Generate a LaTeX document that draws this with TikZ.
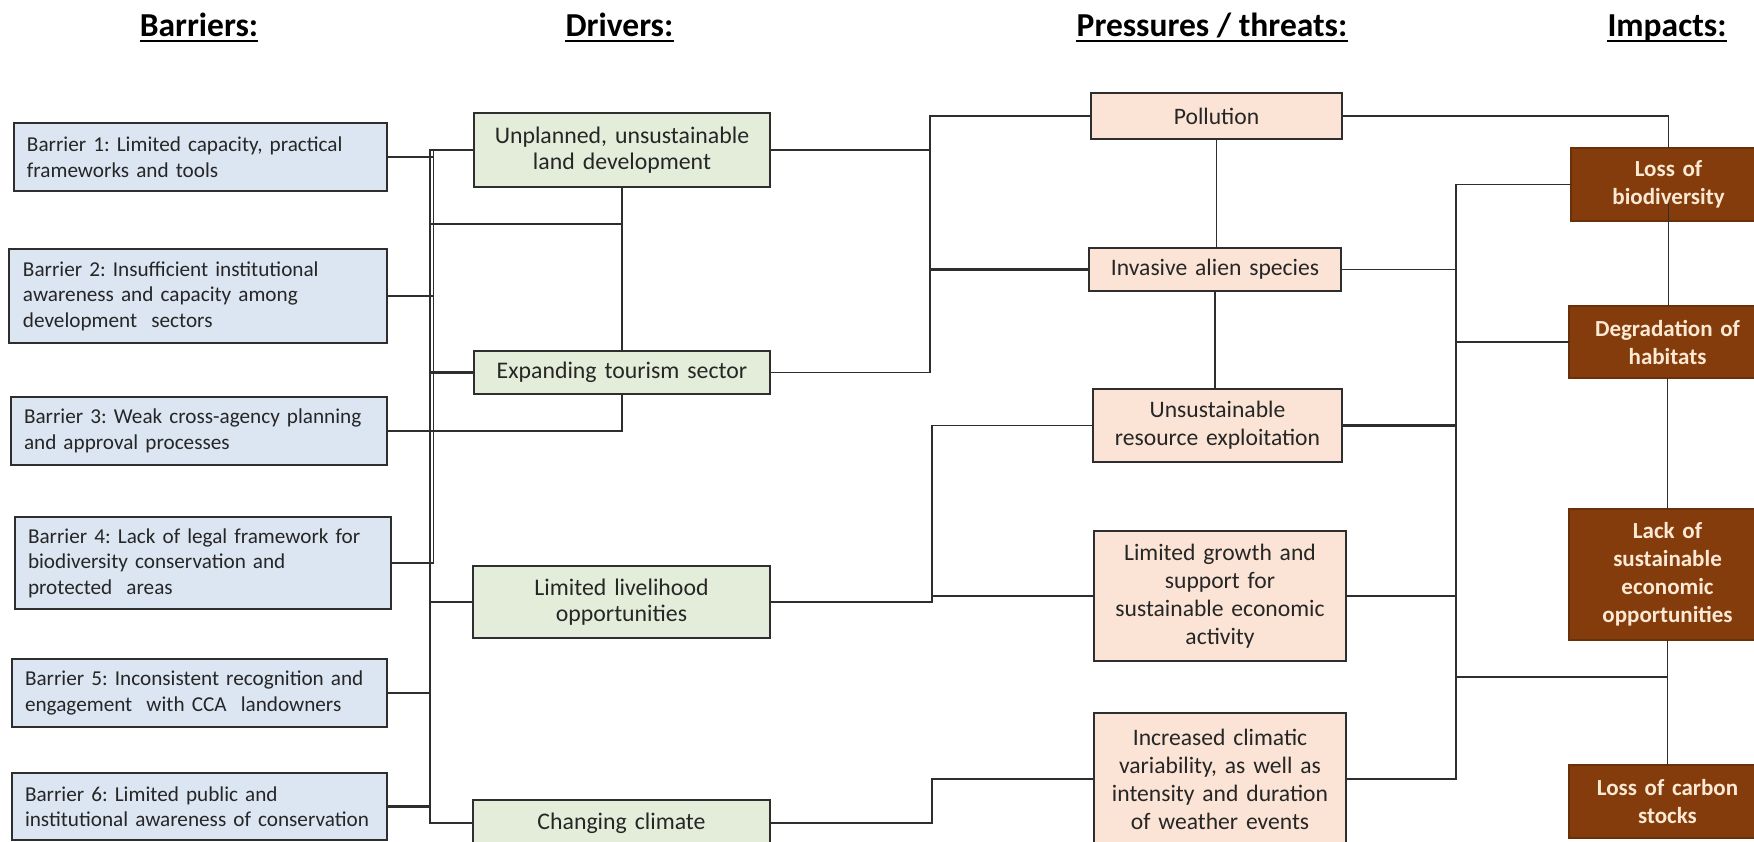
\documentclass[tikz,border=0pt]{standalone}
\usepackage{fontspec}
\setmainfont{Carlito}
\definecolor{barfill}{HTML}{DCE6F2}
\definecolor{drvfill}{HTML}{E4EDDA}
\definecolor{prsfill}{HTML}{FBE4D5}
\definecolor{impfill}{HTML}{843C0C}
\definecolor{imptext}{HTML}{FCE9D4}
\definecolor{linec}{HTML}{2E2E2E}
\definecolor{txtc}{HTML}{262626}
\begin{document}
\frenchspacing
\hyphenpenalty=10000
\exhyphenpenalty=10000
\begin{tikzpicture}[x=1pt,y=-1pt,
  boxbase/.style={draw=linec, line width=1.8pt, inner sep=0pt, outer sep=0pt, text=txtc},
  barbox/.style={boxbase, fill=barfill, align=left, font=\fontsize{21.2}{25.5}\selectfont},
  drvbox/.style={boxbase, fill=drvfill, align=center, font=\fontsize{23.8}{26.5}\selectfont},
  prsbox/.style={boxbase, fill=prsfill, align=center, font=\fontsize{23.6}{28}\selectfont},
  impbox/.style={draw=impfill!80!black, line width=1.5pt, fill=impfill, inner sep=0pt, outer sep=0pt,
     text=imptext, align=center, font=\bfseries\fontsize{23}{28}\selectfont},
  head/.style={inner sep=0pt, anchor=base, font=\bfseries\fontsize{33.5}{38}\selectfont, text=black},
  conn/.style={draw=linec, line width=1.6pt},
  ul/.style={draw=black, line width=2pt}]
\useasboundingbox (0,0) rectangle (1754,841);
\clip (0,0) rectangle (1754,841);
\fill[white] (0,0) rectangle (1754,841);

% headers
\node[head] (h1) at (199,36) {Barriers:};
\node[head] (h2) at (619.5,36) {Drivers:};
\node[head] (h3) at (1212,36) {Pressures / threats:};
\node[head] (h4) at (1667,36) {Impacts:};
\foreach \h in {h1,h2,h3,h4}{
  \draw[ul] ([yshift=-4.5pt]\h.base west) -- ([yshift=-4.5pt]\h.base east);
}

% bus coordinates
\coordinate (busA) at (430,0);
\coordinate (busA2) at (433.5,0);
\coordinate (busP) at (930,0);
\coordinate (busQ) at (932,0);
\coordinate (busI) at (1456,0);
\coordinate (j1) at (622,224);
\coordinate (j2) at (1668,677);

% barriers
\node[barbox, minimum width=373pt, minimum height=68pt, text width=347pt] (B1) at (200.5,157) {Barrier 1: Limited capacity, practical\\frameworks and tools};
\node[barbox, minimum width=378pt, minimum height=94pt, text width=350pt] (B2) at (198,296) {Barrier 2: Insufficient institutional\\awareness and capacity among\\development\ \ sectors};
\node[barbox, minimum width=376pt, minimum height=68pt, text width=350pt] (B3) at (199,431) {Barrier 3: Weak cross-agency planning\\and approval processes};
\node[barbox, minimum width=376pt, minimum height=92pt, text width=350pt] (B4) at (203,563) {Barrier 4: Lack of legal framework for\\biodiversity conservation and\\protected\ \ areas};
\node[barbox, minimum width=375pt, minimum height=68pt, text width=349pt] (B5) at (199.5,693) {Barrier 5: Inconsistent recognition and\\engagement\ \ with CCA\ \ landowners};
\node[barbox, minimum width=375pt, minimum height=67pt, text width=349pt] (B6) at (199.5,806.5) {Barrier 6: Limited public and\\institutional awareness of conservation};

% drivers
\node[drvbox, minimum width=296pt, minimum height=74pt, text width=285pt] (D1) at (622,150) {Unplanned, unsustainable\\land development};
\node[drvbox, minimum width=296pt, minimum height=43pt, text width=285pt] (D2) at (622,372.5) {Expanding tourism sector};
\node[drvbox, minimum width=297pt, minimum height=72pt, text width=285pt] (D3) at (621.5,602) {Limited livelihood\\opportunities};
\node[drvbox, minimum width=297pt, minimum height=46pt, text width=285pt] (D4) at (621.5,823) {Changing climate};

% pressures
\node[prsbox, minimum width=251pt, minimum height=46pt, text width=245pt] (P1) at (1216.5,116) {Pollution};
\node[prsbox, minimum width=252pt, minimum height=43pt, text width=245pt] (P2) at (1215,269.5) {Invasive alien species};
\node[prsbox, minimum width=249pt, minimum height=73pt, text width=245pt] (P3) at (1217.5,425.5) {Unsustainable\\resource exploitation};
\node[prsbox, minimum width=252pt, minimum height=130pt, text width=245pt] (P4) at (1220,596) {Limited growth and\\support for\\sustainable economic\\activity};
\node[prsbox, minimum width=252pt, minimum height=132pt, text width=245pt] (P5) at (1220,779) {Increased climatic\\variability, as well as\\intensity and duration\\of weather events};

% impacts
\node[impbox, minimum width=195pt, minimum height=73pt, text width=190pt] (I1) at (1668.5,184.5) {Loss of\\biodiversity};
\node[impbox, minimum width=197pt, minimum height=72pt, text width=190pt] (I2) at (1667.5,342) {Degradation of\\habitats};
\node[impbox, minimum width=197pt, minimum height=131pt, text width=190pt] (I3) at (1667.5,574.5) {Lack of\\sustainable\\economic\\opportunities};
\node[impbox, minimum width=197pt, minimum height=73pt, text width=190pt] (I4) at (1667.5,801.5) {Loss of carbon\\stocks};

% ---- connectors: barriers -> drivers
\draw[conn] (D1.west) -- (D1.west -| busA) |- (D4.west);
\draw[conn] (busA2 |- D1.west) -- (busA2 |- B4.east);
\draw[conn, line width=2.4pt] (B1.east) -- (B1.east -| busA2);
\draw[conn] (B2.east) -- (B2.east -| busA2);
\draw[conn] (B4.east) -- (B4.east -| busA2);
\draw[conn] (B5.east) -- (B5.east -| busA);
\draw[conn, line width=2.4pt] (B6.east) -- (B6.east -| busA);
\draw[conn, line width=2.2pt] (D2.west) -- (D2.west -| busA);
\draw[conn] (D3.west) -- (D3.west -| busA);
\draw[conn] (D1.south) -- (D2.north);
\draw[conn] (j1 -| busA) -- (j1);
\draw[conn] (B3.east) -| (D2.south);

% ---- drivers -> pressures
\draw[conn] (P1.west) -- (P1.west -| busP) |- (D2.east);
\draw[conn] (D1.east) -- (D1.east -| busP);
\draw[conn, line width=2.2pt] (P2.west) -- (P2.west -| busP);
\draw[conn] (P3.west) -- (P3.west -| busQ) |- (D3.east);
\draw[conn] (P4.west) -- (P4.west -| busQ);
\draw[conn] (D4.east) -- (D4.east -| busQ) |- (P5.west);
\draw[conn] (P1.south) -- (P1.south |- P2.north);
\draw[conn] (P2.south) -- (P2.south |- P3.north);

% ---- pressures -> impacts
\draw[conn] (P1.east) -| (I1.north);
\draw[conn] (I1.west) -- (I1.west -| busI) |- (P5.east);
\draw[conn] (P2.east) -- (P2.east -| busI);
\draw[conn, line width=2.2pt] (P3.east) -- (P3.east -| busI);
\draw[conn] (P4.east) -- (P4.east -| busI);
\draw[conn] (I2.west) -- (I2.west -| busI);
\draw[conn] ([yshift=18pt]I1.south) -- (I1.south |- I2.north);
\draw[conn] (I2.south) -- (I2.south |- I3.north);
\draw[conn] (I3.south) -- (I3.south |- I4.north);
\draw[conn] (j2 -| busI) -- (j2);
\end{tikzpicture}
\end{document}
